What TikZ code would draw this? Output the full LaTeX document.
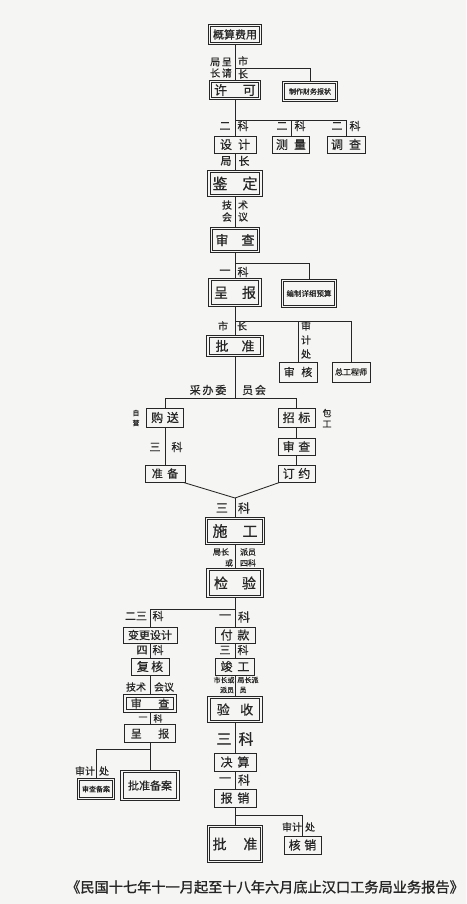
\documentclass[tikz,border=0pt]{standalone}
\usepackage{fontspec}
\newfontfamily\cjk{Noto Sans CJK SC}[FakeBold=0.6,AutoFakeBold=0.6]
\newfontfamily\cjkb{Noto Sans CJK SC}[FakeBold=1.2,AutoFakeBold=1.2]
\usetikzlibrary{backgrounds}
\definecolor{ink}{HTML}{262626}
\definecolor{paper}{HTML}{F5F5F3}
\tikzset{
  sbox/.style={draw=ink, line width=0.85pt, fill=paper, inner sep=0pt, text=ink},
  dbox/.style={draw=ink, double=paper, double distance=1.6pt, line width=0.75pt, inner sep=0pt, text=ink},
  lbl/.style={inner sep=0pt, text=ink},
  conn/.style={draw=ink, line width=0.85pt},
  fs/.style={font=\cjk\fontsize{#1}{#1}\selectfont}
}
\begin{document}
\begin{tikzpicture}[x=1pt,y=-1pt]
\useasboundingbox (0,0) rectangle (466,904);
% boxes
\node[dbox, fs=11, minimum width=51pt, minimum height=18pt] (gs) at (235,34.5) {概算费用};
\node[dbox, fs=13, minimum width=49pt, minimum height=17pt] (xk) at (235,90) {许\hspace{1.2em}可};
\node[dbox, fs=7, minimum width=53pt, minimum height=18pt] (zz) at (310,91.5) {制作财务报状};
\node[sbox, fs=12, minimum width=42pt, minimum height=17pt] (sj) at (235,144.5) {设\hspace{0.5em}计};
\node[sbox, fs=12, minimum width=37pt, minimum height=17pt] (cl) at (291,144.5) {测\hspace{0.5em}量};
\node[sbox, fs=12, minimum width=38pt, minimum height=17pt] (dc) at (346,144.5) {调\hspace{0.5em}查};
\node[dbox, fs=15, minimum width=52pt, minimum height=24pt] (jd) at (235,183.5) {鉴\hspace{1em}定};
\node[dbox, fs=13, minimum width=47pt, minimum height=23pt] (sc1) at (235,240) {审\hspace{1em}查};
\node[dbox, fs=14, minimum width=50pt, minimum height=26pt] (cb1) at (235,292.5) {呈\hspace{1em}报};
\node[dbox, fs=7.5, minimum width=53pt, minimum height=26pt] (bz) at (309,293.5) {编制详细预算};
\node[dbox, fs=13, minimum width=54pt, minimum height=19pt] (pz1) at (235,346) {批\hspace{1em}准};
\node[sbox, fs=11, minimum width=38pt, minimum height=20pt] (sh) at (298,372) {审\hspace{0.6em}核};
\node[sbox, fs=8, minimum width=38pt, minimum height=20pt] (zg) at (351,372) {总工程师};
\node[sbox, fs=12, minimum width=37pt, minimum height=19pt] (gsong) at (165,417.5) {购\hspace{0.3em}送};
\node[sbox, fs=12, minimum width=37pt, minimum height=19pt] (zb) at (296.5,417.5) {招\hspace{0.3em}标};
\node[sbox, fs=12, minimum width=37pt, minimum height=17pt] (sc2) at (296.5,446.5) {审\hspace{0.3em}查};
\node[sbox, fs=11, minimum width=40pt, minimum height=17pt] (zbei) at (165,473.5) {准\hspace{0.4em}备};
\node[sbox, fs=12, minimum width=37pt, minimum height=17pt] (dy) at (296.5,473.5) {订\hspace{0.3em}约};
\node[dbox, fs=15, minimum width=57pt, minimum height=25pt] (sg) at (235,531) {施\hspace{1em}工};
\node[dbox, fs=14, minimum width=54pt, minimum height=27pt] (jy) at (235,583) {检\hspace{1em}验};
\node[sbox, fs=11, minimum width=54pt, minimum height=16pt] (bg) at (150,635) {变更设计};
\node[sbox, fs=12, minimum width=38pt, minimum height=17pt] (fh) at (150,666.5) {复\hspace{0.2em}核};
\node[dbox, fs=11, minimum width=50pt, minimum height=15pt] (sc3) at (150,703.5) {审\hspace{1.5em}查};
\node[sbox, fs=11, minimum width=51pt, minimum height=18pt] (cb2) at (150,733.5) {呈\hspace{1.5em}报};
\node[dbox, fs=7, minimum width=35pt, minimum height=19pt] (scba) at (96,789) {审查备案};
\node[dbox, fs=11, minimum width=56pt, minimum height=28pt] (pzba) at (150,785.5) {批准备案};
\node[sbox, fs=12, minimum width=40pt, minimum height=16pt] (fk) at (235,635) {付\hspace{0.4em}款};
\node[sbox, fs=12, minimum width=39pt, minimum height=17pt] (jg) at (235,666.5) {竣\hspace{0.4em}工};
\node[dbox, fs=13, minimum width=52pt, minimum height=24pt] (ys) at (235,709.5) {验\hspace{0.8em}收};
\node[sbox, fs=12, minimum width=42pt, minimum height=18pt] (js) at (235,762) {决\hspace{0.4em}算};
\node[sbox, fs=12, minimum width=42pt, minimum height=18pt] (bx) at (235,798) {报\hspace{0.4em}销};
\node[dbox, fs=14, minimum width=53pt, minimum height=35pt] (pz2) at (235,844) {批\hspace{1.2em}准};
\node[sbox, fs=12, minimum width=37pt, minimum height=18pt] (hx) at (302.5,845) {核\hspace{0.3em}销};
% labels
\node[lbl, fs=10] (l1) at (221,62) {局\,呈};
\node[lbl, fs=10] (l2) at (221,73) {长\,请};
\node[lbl, fs=10] (l3) at (243,61) {市};
\node[lbl, fs=10] (l4) at (243,74) {长};
\node[lbl, fs=11] (l5) at (225,126) {二};
\node[lbl, fs=11] (l6) at (243,126) {科};
\node[lbl, fs=11] (l7) at (282,126) {二};
\node[lbl, fs=11] (l8) at (300,126) {科};
\node[lbl, fs=11] (l9) at (337,126) {二};
\node[lbl, fs=11] (l10) at (355,126) {科};
\node[lbl, fs=11] (l11) at (226,161) {局};
\node[lbl, fs=11] (l12) at (244,161) {长};
\node[lbl, fs=10] (l13) at (227,205) {技};
\node[lbl, fs=10] (l14) at (227,217) {会};
\node[lbl, fs=10] (l15) at (243,205) {术};
\node[lbl, fs=10] (l16) at (243,217) {议};
\node[lbl, fs=11] (l17) at (225,272) {一};
\node[lbl, fs=11] (l18) at (243,272) {科};
\node[lbl, fs=10] (l19) at (223,326) {市};
\node[lbl, fs=10] (l20) at (242,326) {长};
\node[lbl, fs=10] (l21) at (306,326) {审};
\node[lbl, fs=10] (l22) at (306,340) {计};
\node[lbl, fs=10] (l23) at (306,354) {处};
\node[lbl, fs=11] (l24) at (208,390) {采\,办\,委};
\node[lbl, fs=11] (l25) at (254,390) {员\,会};
\node[lbl, fs=7] (l26) at (136,413) {自};
\node[lbl, fs=7] (l27) at (136,423) {营};
\node[lbl, fs=9] (l28) at (327,413) {包};
\node[lbl, fs=9] (l29) at (327,424) {工};
\node[lbl, fs=11] (l30) at (155,447) {三};
\node[lbl, fs=11] (l31) at (177,447) {科};
\node[lbl, fs=12] (l32) at (222,508) {三};
\node[lbl, fs=12] (l33) at (244,508) {科};
\node[lbl, fs=8] (l34) at (221,552) {局长};
\node[lbl, fs=8] (l35) at (229,563) {或};
\node[lbl, fs=8] (l36) at (248,552) {派员};
\node[lbl, fs=8] (l37) at (248,563) {四科};
\node[lbl, fs=12] (l38) at (225,617) {一};
\node[lbl, fs=12] (l39) at (244,617) {科};
\node[lbl, fs=11] (l40) at (136,616) {二三};
\node[lbl, fs=11] (l41) at (158,616) {科};
\node[lbl, fs=11] (l42) at (142,650) {四};
\node[lbl, fs=11] (l43) at (158,650) {科};
\node[lbl, fs=11] (l44) at (225,650) {三};
\node[lbl, fs=11] (l45) at (243,650) {科};
\node[lbl, fs=10] (l46) at (136,687) {技术};
\node[lbl, fs=10] (l47) at (164,687) {会议};
\node[lbl, fs=7] (l48) at (224,680) {市长或};
\node[lbl, fs=7] (l49) at (227,690) {派员};
\node[lbl, fs=7] (l50) at (248,680) {局长派};
\node[lbl, fs=7] (l51) at (243,690) {员};
\node[lbl, fs=9] (l52) at (143,718.5) {一};
\node[lbl, fs=9] (l53) at (158,718.5) {科};
\node[lbl, fs=15] (l54) at (224,739) {三};
\node[lbl, fs=15] (l55) at (246,739) {科};
\node[lbl, fs=10] (l56) at (85,771) {审计};
\node[lbl, fs=10] (l57) at (104,771) {处};
\node[lbl, fs=12] (l58) at (225,780) {一};
\node[lbl, fs=12] (l59) at (244,780) {科};
\node[lbl, fs=10] (l60) at (292,827) {审计};
\node[lbl, fs=10] (l61) at (310,827) {处};
\node[lbl, font=\cjkb\fontsize{14.2}{14.2}\selectfont] (cap) at (265,887) {《民国十七年十一月起至十八年六月底止汉口工务局业务报告》};
% connectors
\begin{pgfonlayer}{background}
\fill[paper] (0,0) rectangle (466,904);
\coordinate (c1) at (235,68);
\coordinate (c2) at (235,120);
\coordinate (c3) at (235,263);
\coordinate (c4) at (235,321);
\coordinate (c5) at (235,398);
\coordinate (m) at (235,498);
\coordinate (c6) at (235,609);
\coordinate (c7) at (150,749);
\coordinate (c8) at (235,815);
\draw[conn] (gs) -- (xk);
\draw[conn] (c1) -| (zz.north);
\draw[conn] (xk) -- (sj);
\draw[conn] (c2) -| (cl.north);
\draw[conn] (c2) -| (dc.north);
\draw[conn] (sj) -- (jd);
\draw[conn] (jd) -- (sc1);
\draw[conn] (sc1) -- (cb1);
\draw[conn] (c3) -| (bz.north);
\draw[conn] (cb1) -- (pz1);
\draw[conn] (c4) -| (sh.north);
\draw[conn] (c4) -| (zg.north);
\draw[conn] (pz1.south) -- (c5);
\draw[conn] (c5) -| (gsong.north);
\draw[conn] (c5) -| (zb.north);
\draw[conn] (gsong) -- (zbei);
\draw[conn] (zb) -- (sc2);
\draw[conn] (sc2) -- (dy);
\draw[conn] ([xshift=-2pt]zbei.south east) -- (m) -- ([xshift=2pt]dy.south west);
\draw[conn] (m) -- (sg.north);
\draw[conn] (sg) -- (jy);
\draw[conn] (jy) -- (fk);
\draw[conn] (c6) -| (bg.north);
\draw[conn] (bg) -- (fh);
\draw[conn] (fh) -- (sc3);
\draw[conn] (sc3) -- (cb2);
\draw[conn] (cb2) -- (pzba);
\draw[conn] (c7) -| (scba.north);
\draw[conn] (fk) -- (jg);
\draw[conn] (jg) -- (ys);
\draw[conn] (ys) -- (js);
\draw[conn] (js) -- (bx);
\draw[conn] (bx) -- (pz2);
\draw[conn] (c8) -| (hx.north);
\end{pgfonlayer}
\end{tikzpicture}
\end{document}
